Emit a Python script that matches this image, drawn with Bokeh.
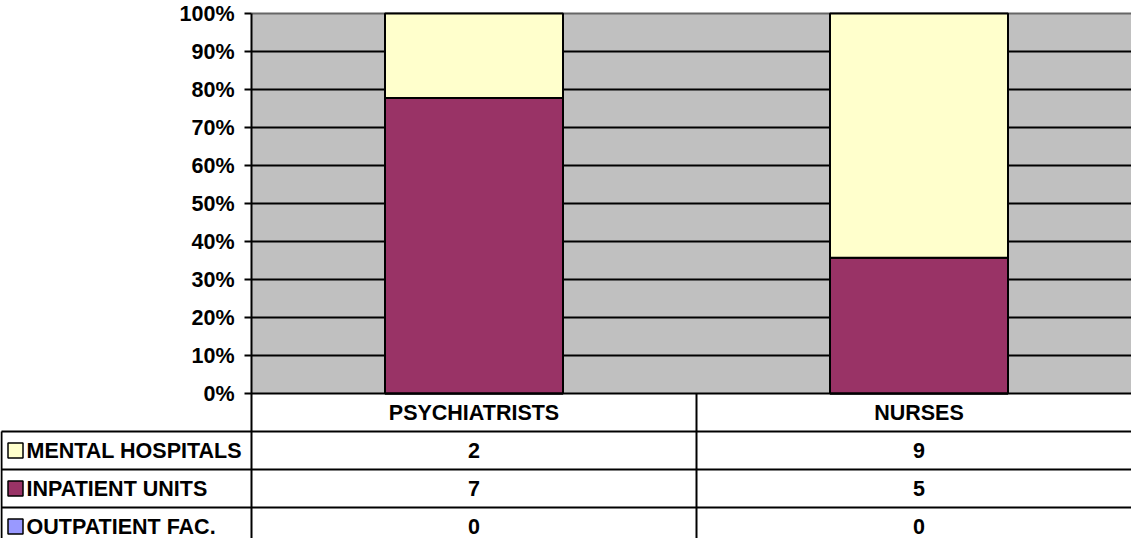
from bokeh.plotting import figure
from bokeh.models import Range1d
from bokeh.core.properties import value
from bokeh.embed import file_html
from bokeh.resources import INLINE

# ---------------- data ----------------
categories = ["PSYCHIATRISTS", "NURSES"]
series_names = ["MENTAL HOSPITALS", "INPATIENT UNITS", "OUTPATIENT FAC."]
mental_hospitals = [2, 9]
inpatient_units = [7, 5]
outpatient_fac = [0, 0]
series_colors = ["#FFFFCC", "#993366", "#9999FF"]
tick_values = [0.0, 0.1, 0.2, 0.3, 0.4, 0.5, 0.6, 0.7, 0.8, 0.9, 1.0]
tick_labels = ["0%", "10%", "20%", "30%", "40%", "50%", "60%", "70%", "80%", "90%", "100%"]

# ---------------- layout ----------------
W, H = 1131, 538
CAT_PX = 445.0      # pixels per category
PCT_PX = 380.0      # pixels per 100%
LEFT_PX = 251.0     # frame-left to plot-area-left
TOP_PX = 13.0       # frame-top to 100%
x_start = -LEFT_PX / CAT_PX
x_end = (W - LEFT_PX) / CAT_PX
y_end = 1.0 + TOP_PX / PCT_PX
y_start = y_end - H / PCT_PX
ROW_H = 38.0 / PCT_PX

FONT = value("Liberation Sans")
FS = "21.5px"

p = figure(width=W, height=H, x_range=Range1d(x_start, x_end), y_range=Range1d(y_start, y_end),
           output_backend="svg", toolbar_location=None, x_axis_type=None, y_axis_type=None,
           min_border=0)
p.outline_line_color = None
p.background_fill_color = "white"
p.border_fill_color = "white"
p.grid.visible = False

n_cat = len(categories)
centers = [i + 0.5 for i in range(n_cat)]

# plot area background
p.quad(left=[0], right=[n_cat], bottom=[0], top=[1], fill_color="#C0C0C0", line_color=None)

# gridlines
grid_y = [t for t in tick_values if 0 < t < 1]
p.segment(x0=[0] * len(grid_y), x1=[n_cat] * len(grid_y), y0=grid_y, y1=grid_y,
          line_color="black", line_width=2)
# plot-area top border (grey)
p.segment(x0=[0], x1=[n_cat], y0=[tick_values[-1]], y1=[tick_values[-1]],
          line_color="#666666", line_width=2)

# bars (100% stacked)
stack = [outpatient_fac, inpatient_units, mental_hospitals]
stack_colors = [series_colors[2], series_colors[1], series_colors[0]]
totals = [sum(s[i] for s in stack) for i in range(n_cat)]
bottoms = [0.0] * n_cat
for vals, col in zip(stack, stack_colors):
    tops = [b + v / t for b, v, t in zip(bottoms, vals, totals)]
    p.vbar(x=centers, bottom=bottoms, top=tops, width=0.4, fill_color=col,
           line_color="black", line_width=2)
    bottoms = tops

# y axis line + ticks + labels
tick_len = 7.0 / CAT_PX
p.segment(x0=[0], x1=[0], y0=[y_start], y1=[1], line_color="black", line_width=2)
p.segment(x0=[-tick_len] * len(tick_values), x1=[0] * len(tick_values),
          y0=tick_values, y1=tick_values, line_color="black", line_width=2)
p.text(x=[-17.0 / CAT_PX] * len(tick_values), y=tick_values, text=tick_labels,
       text_font=FONT, text_font_size=FS, text_font_style="bold", text_color="black",
       text_align="right", text_baseline="middle")

# data table
n_rows = len(series_names)
legend_left = -250.0 / CAT_PX
row_lines = [-(i + 1) * ROW_H for i in range(n_rows)]
p.segment(x0=[0], x1=[n_cat], y0=[0], y1=[0], line_color="black", line_width=2)
p.segment(x0=[legend_left] * n_rows, x1=[n_cat] * n_rows, y0=row_lines, y1=row_lines,
          line_color="black", line_width=2)
p.segment(x0=list(range(1, n_cat + 1)), x1=list(range(1, n_cat + 1)),
          y0=[0] * n_cat, y1=[y_start] * n_cat, line_color="black", line_width=2)
p.segment(x0=[legend_left], x1=[legend_left], y0=[-ROW_H], y1=[y_start],
          line_color="black", line_width=2)

# header
p.text(x=centers, y=[-ROW_H / 2] * n_cat, text=categories, text_font=FONT, text_font_size=FS,
       text_font_style="bold", text_color="black", text_align="center", text_baseline="middle")

# rows
table_series = [mental_hospitals, inpatient_units, outpatient_fac]
for r, (name, vals, col) in enumerate(zip(series_names, table_series, series_colors)):
    yc = -(r + 1.5) * ROW_H
    p.text(x=centers, y=[yc] * n_cat, text=[str(v) for v in vals], text_font=FONT,
           text_font_size=FS, text_font_style="bold", text_color="black",
           text_align="center", text_baseline="middle")
    p.scatter(x=[-236.0 / CAT_PX], y=[yc], marker="square", size=15, fill_color=col,
              line_color="black", line_width=1.5)
    p.text(x=[-225.0 / CAT_PX], y=[yc], text=[name], text_font=FONT, text_font_size=FS,
           text_font_style="bold", text_color="black", text_align="left", text_baseline="middle")

open("out.html", "w").write(file_html(p, INLINE))
